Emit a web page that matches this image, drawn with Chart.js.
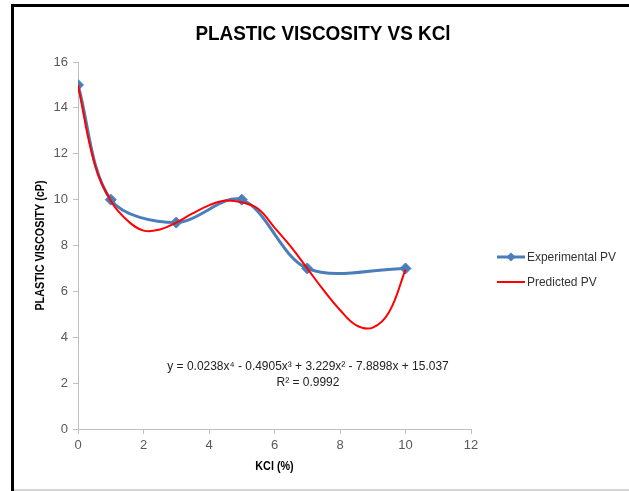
<!DOCTYPE html>
<html>
<head>
<meta charset="utf-8">
<script src="https://cdn.jsdelivr.net/npm/chart.js@4.4.0/dist/chart.umd.min.js"></script>
<style>
  html, body { margin: 0; padding: 0; background: #fff; }
  #wrap { width: 629px; height: 491px; position: relative; }
</style>
</head>
<body>
<div id="wrap"><canvas id="pvChart" width="629" height="491"></canvas></div>
<script>
// experimental points (KCl %, PV cP)
const expKcl = [0, 1, 3, 5, 7, 10];
const expPV = [15, 10, 9, 10, 7, 7];

// predicted curve, every 0.5 %
const predKcl = [0, 0.5, 1, 1.5, 2, 2.5, 3, 3.5, 4, 4.5, 5, 5.5, 6, 6.5, 7, 7.5, 8, 8.5, 9, 9.5, 10];
const predPV = [15, 11.6, 9.95, 9.1, 8.65, 8.7, 9.0, 9.4, 9.75, 9.96, 9.88, 9.6, 8.78, 7.95, 7.0, 6.05, 5.19, 4.52, 4.42, 5.1, 6.95];

const seriesNames = ["Experimental PV", "Predicted PV"];
const chartTitle = "PLASTIC VISCOSITY VS KCl";
const xTitle = "KCl (%)";
const yTitle = "PLASTIC VISCOSITY (cP)";
const trendLines = ["y = 0.0238x\u2074 - 0.4905x\u00b3 + 3.229x\u00b2 - 7.8898x + 15.037", "R\u00b2 = 0.9992"];

const FONT = "'Liberation Sans', Arial, sans-serif";
const BLUE = "#4A7EBB";
const RED = "#FF0000";
const AXIS = "#BFBFBF";

function toPoints(xs, ys) {
  return xs.map((x, i) => ({ x: x, y: ys[i] }));
}

// narrow text a little, the original uses Calibri
function narrowText(ctx, text, x, y, sx) {
  ctx.save();
  ctx.translate(x, y);
  ctx.scale(sx, 1);
  ctx.fillText(text, 0, 0);
  ctx.restore();
}

const extras = {
  id: "extras",
  afterDraw(chart) {
    const ctx = chart.ctx;
    const area = chart.chartArea;
    ctx.save();

    // outer frame
    ctx.strokeStyle = "#000";
    ctx.lineWidth = 3;
    ctx.beginPath();
    ctx.moveTo(12.5, 491);
    ctx.lineTo(12.5, 5.5);
    ctx.lineTo(629, 5.5);
    ctx.stroke();
    ctx.strokeStyle = "#d4d4d4";
    ctx.lineWidth = 2;
    ctx.beginPath();
    ctx.moveTo(14, 490);
    ctx.lineTo(629, 490);
    ctx.stroke();

    // title
    ctx.fillStyle = "#000";
    ctx.font = "bold 21px " + FONT;
    ctx.textAlign = "center";
    ctx.textBaseline = "alphabetic";
    narrowText(ctx, chartTitle, 323, 40, 0.9);

    // axis titles
    ctx.font = "bold 12px " + FONT;
    ctx.textBaseline = "middle";
    narrowText(ctx, xTitle, (area.left + area.right) / 2, 467, 0.9);
    ctx.save();
    ctx.translate(41, (area.top + area.bottom) / 2);
    ctx.rotate(-Math.PI / 2);
    narrowText(ctx, yTitle, 0, 0, 0.9);
    ctx.restore();

    // trendline equation
    ctx.font = "13px " + FONT;
    ctx.fillStyle = "#222";
    narrowText(ctx, trendLines[0], 308, 366, 0.92);
    narrowText(ctx, trendLines[1], 308, 382, 0.92);

    // legend
    ctx.textAlign = "left";
    ctx.strokeStyle = BLUE;
    ctx.lineWidth = 3;
    ctx.beginPath();
    ctx.moveTo(497, 257);
    ctx.lineTo(525, 257);
    ctx.stroke();
    ctx.fillStyle = BLUE;
    ctx.beginPath();
    ctx.moveTo(511, 252.5);
    ctx.lineTo(515.5, 257);
    ctx.lineTo(511, 261.5);
    ctx.lineTo(506.5, 257);
    ctx.closePath();
    ctx.fill();
    ctx.fillStyle = "#333";
    narrowText(ctx, seriesNames[0], 527, 257, 0.92);

    ctx.strokeStyle = RED;
    ctx.lineWidth = 2;
    ctx.beginPath();
    ctx.moveTo(497, 282);
    ctx.lineTo(525, 282);
    ctx.stroke();
    narrowText(ctx, seriesNames[1], 527, 282, 0.92);

    ctx.restore();
  }
};

new Chart(document.getElementById("pvChart"), {
  type: "scatter",
  data: {
    datasets: [
      {
        label: seriesNames[0],
        data: toPoints(expKcl, expPV),
        showLine: true,
        borderColor: BLUE,
        backgroundColor: BLUE,
        borderWidth: 3,
        tension: 0.33,
        pointStyle: "rectRot",
        pointRadius: 5.5,
        pointBorderWidth: 1,
        order: 2
      },
      {
        label: seriesNames[1],
        data: toPoints(predKcl, predPV),
        showLine: true,
        borderColor: RED,
        backgroundColor: RED,
        borderWidth: 2,
        tension: 0.4,
        pointRadius: 0,
        order: 1
      }
    ]
  },
  options: {
    responsive: false,
    animation: false,
    devicePixelRatio: 1,
    layout: { padding: { left: 0, top: 62, right: 158, bottom: 0 } },
    plugins: {
      legend: { display: false },
      title: { display: false },
      tooltip: { enabled: false }
    },
    scales: {
      x: {
        type: "linear",
        min: 0,
        max: 12,
        afterFit: s => { s.height = 62; },
        grid: { drawOnChartArea: false, drawTicks: true, tickLength: 5, color: AXIS },
        border: { display: true, color: AXIS },
        ticks: { stepSize: 2, padding: 4, color: "#595959", font: { family: FONT, size: 13 } }
      },
      y: {
        min: 0,
        max: 16,
        afterFit: s => { s.width = 78; },
        grid: { drawOnChartArea: false, drawTicks: true, tickLength: 5, color: AXIS },
        border: { display: true, color: AXIS },
        ticks: { stepSize: 2, padding: 5, color: "#595959", font: { family: FONT, size: 13 } }
      }
    }
  },
  plugins: [extras]
});
</script>
</body>
</html>
